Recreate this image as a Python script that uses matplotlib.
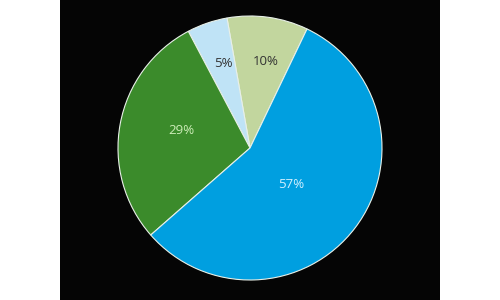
import numpy as np
import matplotlib
matplotlib.use("Agg")
import matplotlib.pyplot as plt

# data (counter-clockwise order starting from the top-right boundary)
labels = ["10%", "5%", "29%", "57%"]
values = [10, 5, 29, 57]
colors = ["#C2D69E", "#BFE3F6", "#3B8B2B", "#009FE0"]
text_colors = ["#333333", "#333333", "#CDEDB8", "#D2F0FF"]
label_radius = [0.67, 0.675, 0.54, 0.42]
label_angle_shift = [-2.6, -1.3, -4.1, -4.2]

plt.rcParams['font.family'] = ['Open Sans', 'DejaVu Sans']

fig = plt.figure(figsize=(5, 3), dpi=100)
fig.patch.set_facecolor("white")
ax = fig.add_axes([0.12, 0.0, 0.76, 1.0])

wedges, _ = ax.pie(values, colors=colors, startangle=64.4, counterclock=True,
                   frame=True,
                   wedgeprops=dict(edgecolor="#E8F0E8", linewidth=0.8))
ax.set_facecolor("#050505")

for w, lab, tc, r, da in zip(wedges, labels, text_colors, label_radius, label_angle_shift):
    ang = np.deg2rad((w.theta1 + w.theta2) / 2 + da)
    ax.text(r * np.cos(ang), r * np.sin(ang), lab, ha="center", va="center",
            fontsize=9.5, color=tc)

ax.set_aspect("auto")
ax.set_xlim(-190 / 132, 190 / 132)
ax.set_ylim(-152 / 132, 148 / 132)
ax.set_xticks([])
ax.set_yticks([])
for s in ax.spines.values():
    s.set_visible(False)

fig.savefig("out.png", dpi=100, facecolor="white")
